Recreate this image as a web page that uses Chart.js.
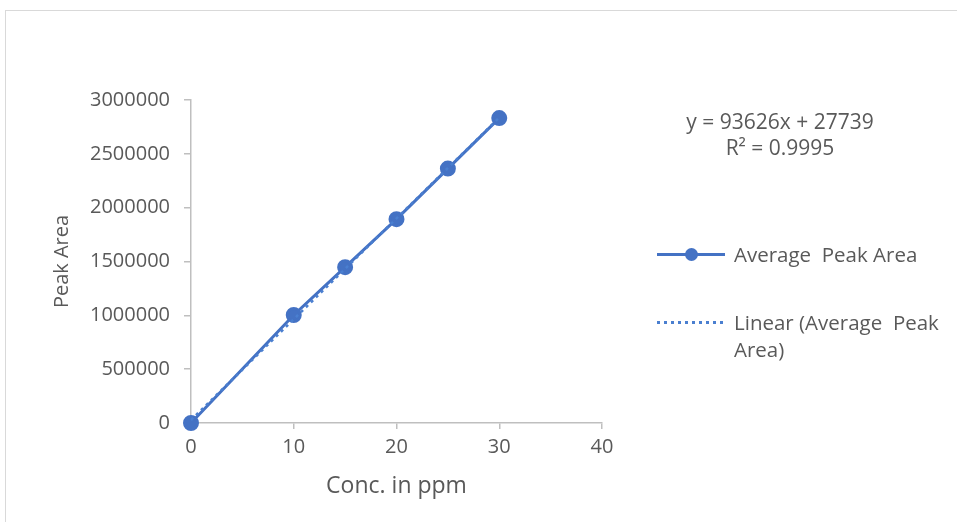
<!DOCTYPE html>
<html>
<head>
<meta charset="utf-8">
<script src="https://cdn.jsdelivr.net/npm/chart.js@4.4.1/dist/chart.umd.min.js"></script>
<style>
  html, body { margin: 0; padding: 0; background: #fff; }
  body { width: 957px; height: 522px; position: relative; overflow: hidden; font-family: "Open Sans", sans-serif; color: #595959; }
  .frame { position: absolute; left: 5px; top: 10px; width: 1000px; height: 600px; border: 1px solid #d9d9d9; box-sizing: border-box; }
  #wrap { position: absolute; left: 0; top: 0; width: 957px; height: 522px; }
  .txt { position: absolute; font-size: 20.5px; line-height: 26px; white-space: pre; }
  .eq { left: 640px; width: 280px; text-align: center; font-size: 21px; }
  .sym { position: absolute; }
  .dots { background: repeating-linear-gradient(90deg, #4a7fd0 0 3px, transparent 3px 7px); }
</style>
</head>
<body>
<div class="frame"></div>
<div id="wrap"><canvas id="chart" width="957" height="522"></canvas></div>

<div class="txt eq" id="eq1" style="top:108px"></div>
<div class="txt eq" id="eq2" style="top:134px"></div>

<div class="sym" style="left:657px; top:253px; width:68px; height:3px; background:#4472c4"></div>
<div class="sym" style="left:685px; top:248px; width:13px; height:13px; border-radius:50%; background:#4472c4"></div>
<div class="txt" id="lg1" style="left:734px; top:241px"></div>

<div class="sym dots" style="left:657px; top:321px; width:66px; height:3px"></div>
<div class="txt" id="lg2" style="left:734px; top:309px; line-height:27px"></div>

<script>
(function () {
  'use strict';

  // measured data
  const conc = [0, 10, 15, 20, 25, 30];
  const peakArea = [0, 1003000, 1447000, 1893000, 2363000, 2832000];

  // trendline as given by the chart's equation, end points
  const trendX = [0, 30];
  const trendY = [27739, 2836519];
  const eqText = ['y = 93626x + 27739', 'R\u00b2 = 0.9995'];

  const xTicks = [0, 10, 20, 30, 40];
  const yTicks = [0, 500000, 1000000, 1500000, 2000000, 2500000, 3000000];

  const seriesName = 'Average  Peak Area';
  const trendName = 'Linear (Average  Peak\nArea)';

  const TEXT = '#595959';
  const AXIS = '#bfbfbf';
  const BLUE = '#4472c4';
  const FONT = '"Open Sans", sans-serif';

  document.getElementById('eq1').textContent = eqText[0];
  document.getElementById('eq2').textContent = eqText[1];
  document.getElementById('lg1').textContent = seriesName;
  document.getElementById('lg2').textContent = trendName;

  new Chart(document.getElementById('chart'), {
    type: 'scatter',
    data: {
      datasets: [
        {
          label: trendName,
          data: trendX.map((x, i) => ({ x: x, y: trendY[i] })),
          showLine: true,
          borderColor: '#4a7fd0',
          borderWidth: 2.5,
          borderDash: [3, 4],
          pointRadius: 0,
          clip: false,
          order: 0,
        },
        {
          label: seriesName,
          data: conc.map((x, i) => ({ x: x, y: peakArea[i] })),
          showLine: true,
          borderColor: BLUE,
          backgroundColor: BLUE,
          borderWidth: 3,
          pointRadius: 6.5,
          pointBackgroundColor: BLUE,
          pointBorderColor: BLUE,
          clip: false,
          order: 1,
        },
      ],
    },
    options: {
      responsive: false,
      animation: false,
      devicePixelRatio: 1,
      layout: { padding: { left: 50, top: 100, right: 355, bottom: 22 } },
      plugins: { legend: { display: false }, tooltip: { enabled: false } },
      scales: {
        x: {
          type: 'linear',
          min: 0, max: 40,
          afterBuildTicks: s => { s.ticks = xTicks.map(v => ({ value: v })); },
          afterFit: s => { s.height = 77; },
          border: { color: AXIS, width: 1.5 },
          grid: { display: true, drawOnChartArea: false, color: AXIS, tickLength: 6, lineWidth: 1.5 },
          ticks: { color: TEXT, font: { family: FONT, size: 20 }, padding: 6 },
          title: { display: true, text: 'Conc. in ppm', color: TEXT, font: { family: FONT, size: 23, lineHeight: 1.2 }, padding: { top: 4, bottom: 0 } },
        },
        y: {
          type: 'linear',
          min: 0, max: 3000000,
          afterBuildTicks: s => { s.ticks = yTicks.map(v => ({ value: v })); },
          afterFit: s => { s.width = 141; },
          border: { color: AXIS, width: 1.5 },
          grid: { display: true, drawOnChartArea: false, color: AXIS, tickLength: 7, lineWidth: 1.5 },
          ticks: { color: TEXT, font: { family: FONT, size: 20 }, padding: 14, callback: v => String(v) },
          title: { display: true, text: 'Peak Area', color: TEXT, font: { family: FONT, size: 20, lineHeight: 1.2 }, padding: { top: 0, bottom: 0 } },
        },
      },
    },
  });
})();
</script>
</body>
</html>
